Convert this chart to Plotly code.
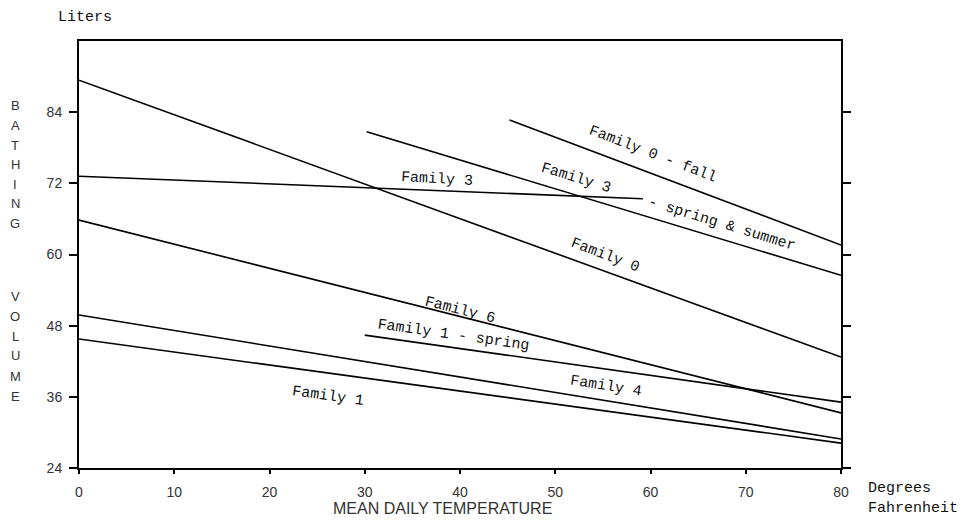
import plotly.graph_objects as go

# ---- data ----
series_names = ["Family 0", "Family 0 - fall", "Family 3 - spring & summer", "Family 3",
                "Family 6", "Family 1 - spring", "Family 4", "Family 1"]
series_x = [[0, 80], [45.2, 80], [30.2, 80], [0, 59.2],
            [0, 80], [30, 80], [0, 80], [0, 80]]
series_y = [[89.4, 42.7], [82.7, 61.6], [80.7, 56.5], [73.2, 69.4],
            [65.8, 33.3], [46.4, 35.1], [49.8, 28.9], [45.75, 28.2]]

x_ticks = [0, 10, 20, 30, 40, 50, 60, 70, 80]
y_ticks = [24, 36, 48, 60, 72, 84]

# line labels: text, x, y, angle
label_text = ["Family 0 - fall", "Family 3", "- spring & summer", "Family 3",
              "Family 0", "Family 6", "Family 1 - spring", "Family 4", "Family 1"]
label_x = [60.2, 52.2, 67.5, 37.6, 55.2, 40.0, 39.3, 55.3, 26.1]
label_y = [76.8, 72.9, 65.0, 72.6, 59.8, 50.6, 46.4, 37.8, 36.1]
label_angle = [21, 17, 17, 3, 21, 14, 8, 9, 8]

y_letters = list("BATHING") + list("VOLUME")

fig = go.Figure()
for name, xs, ys in zip(series_names, series_x, series_y):
    fig.add_trace(go.Scatter(x=xs, y=ys, mode="lines", name=name,
                             line=dict(color="black", width=1.6),
                             showlegend=False, hoverinfo="skip"))

mono = "Liberation Mono"
sans = "Liberation Sans"

annotations = []
for t, x, y, a in zip(label_text, label_x, label_y, label_angle):
    annotations.append(dict(text=t, x=x, y=y, xref="x", yref="y", textangle=a,
                            showarrow=False, font=dict(family=mono, size=15, color="#111")))

# paper-level texts (screen pixel positions -> paper fractions; plot box on screen 79..841 x 41..468)
W, L, T, B = 762, 79, 41, 468
def px(xp):
    return (xp - L) / W
def py(yp):
    return (B - yp) / (B - T)

annotations.append(dict(text="Liters", x=px(85), y=py(18), xref="paper", yref="paper",
                        xanchor="center", yanchor="middle",
                        showarrow=False, font=dict(family=mono, size=15, color="#111")))
annotations.append(dict(text="Degrees", x=px(866), y=py(488), xref="paper", yref="paper",
                        xanchor="left", yanchor="middle",
                        showarrow=False, font=dict(family=mono, size=15, color="#111")))
annotations.append(dict(text="Fahrenheit", x=px(866), y=py(508), xref="paper", yref="paper",
                        xanchor="left", yanchor="middle",
                        showarrow=False, font=dict(family=mono, size=15, color="#111")))
annotations.append(dict(text="MEAN DAILY TEMPERATURE", x=px(442), y=py(509), xref="paper", yref="paper",
                        xanchor="center", yanchor="middle",
                        showarrow=False, font=dict(family=sans, size=16, color="#333")))

ypos = [106 + 19.5 * i for i in range(7)] + [296 + 20 * i for i in range(6)]
for ch, yy in zip(y_letters, ypos):
    annotations.append(dict(text=ch, x=px(15), y=py(yy), xref="paper", yref="paper",
                            xanchor="center", yanchor="middle",
                            showarrow=False, font=dict(family=sans, size=13, color="#333")))

# page body has an 8px margin, so the figure is sized/margined to land the plot box at 79..841 x 41..468
fig.update_layout(
    width=963, height=515,
    margin=dict(l=71, r=130, t=33, b=55),
    paper_bgcolor="white", plot_bgcolor="white",
    annotations=annotations,
    xaxis=dict(range=[0, 80], tickvals=x_ticks, ticks="outside", ticklen=4, tickwidth=1.5,
               tickcolor="black", showline=True, linecolor="black", linewidth=2, mirror=True,
               showgrid=False, zeroline=False, ticklabelstandoff=6,
               tickfont=dict(family=sans, size=14, color="#333")),
    yaxis=dict(range=[24, 96], tickvals=y_ticks, ticks="outside", ticklen=8, tickwidth=1.5,
               tickcolor="black", showline=True, linecolor="black", linewidth=2, mirror="ticks",
               showgrid=False, zeroline=False, ticklabelstandoff=4,
               tickfont=dict(family=sans, size=14, color="#333")),
)

fig.write_html("out.html")
